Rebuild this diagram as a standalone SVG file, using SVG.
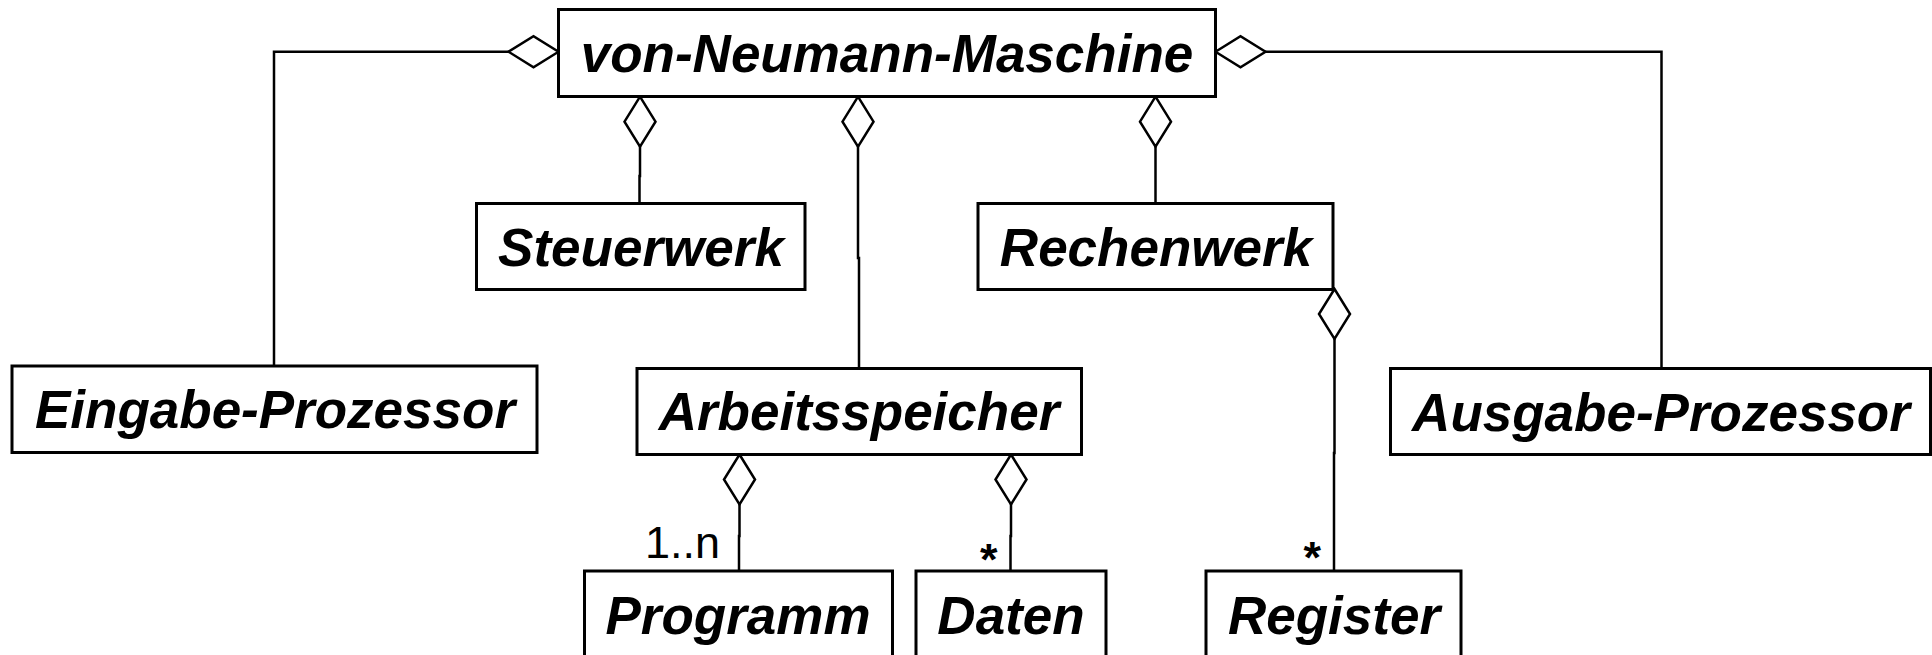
<svg xmlns="http://www.w3.org/2000/svg" width="1932" height="655" viewBox="0 0 1932 655">
  <style>
    .box { fill: #ffffff; stroke: #000000; stroke-width: 3; }
    .name { font-family: "Liberation Sans", Arial, sans-serif; font-weight: bold; font-style: italic; font-size: 53px; text-anchor: middle; fill: #000000; }
    .link { fill: none; stroke: #000000; stroke-width: 2.5; marker-start: url(#aggregation); }
    .mult { font-family: "Liberation Sans", Arial, sans-serif; font-size: 45px; fill: #000000; text-anchor: end; }
    .star { font-weight: bold; }
  </style>
  <defs>
    <!-- hollow diamond at the whole-side end of an aggregation -->
    <marker id="aggregation" markerUnits="userSpaceOnUse" markerWidth="56" markerHeight="36" viewBox="-2 -18 56 36" refX="0" refY="0" orient="auto">
      <path d="M0,0 L25,-15.5 L50,0 L25,15.5 Z" fill="#ffffff" stroke="#000000" stroke-width="2.5" stroke-linejoin="miter"/>
    </marker>
  </defs>

  <rect width="1932" height="655" fill="#ffffff"/>

  <g id="connectors">
    <path class="link" d="M558.5,51.7 H274 V366"/>
    <path class="link" d="M640,96.7 V176 H639.5 V203.5"/>
    <path class="link" d="M858,96.7 V258 H859 V368.5"/>
    <path class="link" d="M1155.5,96.7 V203.5"/>
    <path class="link" d="M1215.5,51.7 H1661.5 V368.5"/>
    <path class="link" d="M1334.5,289 V453 H1334 V571"/>
    <path class="link" d="M739.5,454.5 V536 H739 V571"/>
    <path class="link" d="M1011,454.5 V536 H1010.5 V571"/>
  </g>

  <g id="von-neumann-maschine">
    <rect class="box" x="558.5" y="9.5" width="657" height="87"/>
    <text class="name" x="887" y="71.5">von-Neumann-Maschine</text>
  </g>

  <g id="steuerwerk">
    <rect class="box" x="476.5" y="203.5" width="328.5" height="86"/>
    <text class="name" x="641" y="265.5">Steuerwerk</text>
  </g>

  <g id="rechenwerk">
    <rect class="box" x="978" y="203.5" width="355" height="86"/>
    <text class="name" x="1156" y="265.5">Rechenwerk</text>
  </g>

  <g id="eingabe-prozessor">
    <rect class="box" x="12" y="366" width="525" height="86.5"/>
    <text class="name" x="275" y="428">Eingabe-Prozessor</text>
  </g>

  <g id="arbeitsspeicher">
    <rect class="box" x="637" y="368.5" width="444.5" height="86"/>
    <text class="name" x="859" y="430">Arbeitsspeicher</text>
  </g>

  <g id="ausgabe-prozessor">
    <rect class="box" x="1390.5" y="368.5" width="540" height="86"/>
    <text class="name" x="1661" y="431">Ausgabe-Prozessor</text>
  </g>

  <g id="programm">
    <rect class="box" x="584.5" y="571" width="308" height="87"/>
    <text class="name" x="738" y="633.5">Programm</text>
    <text class="mult" x="720" y="558">1..n</text>
  </g>

  <g id="daten">
    <rect class="box" x="916" y="571" width="190" height="87"/>
    <text class="name" x="1011" y="633.5">Daten</text>
    <text class="mult star" x="997.5" y="575">*</text>
  </g>

  <g id="register">
    <rect class="box" x="1206" y="571" width="255" height="87"/>
    <text class="name" x="1334" y="633.5">Register</text>
    <text class="mult star" x="1321" y="573">*</text>
  </g>
</svg>
